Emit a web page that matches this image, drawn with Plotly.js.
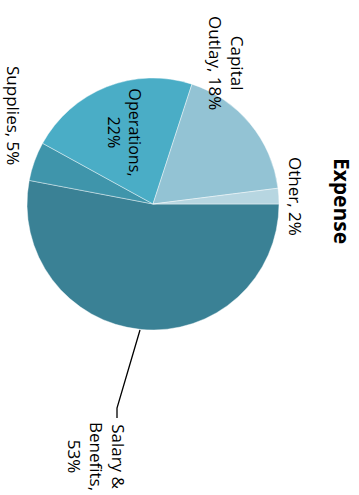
<!DOCTYPE html>
<html>
<head>
<meta charset="utf-8">
<script src="https://cdn.plot.ly/plotly-3.0.1.min.js"></script>
<style>
  html, body { margin: 0; padding: 0; background: #fff; overflow: hidden; }
  #wrap { position: absolute; left: 0; top: 0; width: 495px; height: 359px;
          transform-origin: 0 0; transform: translate(359px, 0) rotate(90deg); }
</style>
</head>
<body>
<div id="wrap"><div id="chart"></div></div>
<script>
// ---- data ----
const categories = ['Salary & Benefits', 'Supplies', 'Operations', 'Capital Outlay', 'Other'];
const values = [53, 5, 22, 18, 2];
const labelLines = ['Salary &<br>Benefits,<br>', 'Supplies, ', 'Operations,<br>', 'Capital<br>Outlay, ', 'Other, '];
const colors = ['#3a8195', '#3f95ab', '#4aadc6', '#93c3d4', '#b7d6e1'];
const chartTitle = 'Expense';

const total = values.reduce((a, b) => a + b, 0);
const texts = values.map((v, i) => labelLines[i] + Math.round(v / total * 100) + '%');

const W = 495, H = 359;
const font = { family: '"Open Sans", "Noto Sans", sans-serif', size: 17, color: '#000' };

// pie slices; only Operations text drawn inside by the pie itself
const trace = {
  type: 'pie',
  labels: categories,
  values: values,
  text: texts,
  textinfo: 'text',
  textposition: categories.map(c => c === 'Operations' ? 'inside' : 'none'),
  insidetextorientation: 'horizontal',
  insidetextfont: font,
  sort: false,
  direction: 'clockwise',
  rotation: 0,
  marker: { colors: colors, line: { color: 'rgba(255,255,255,0.6)', width: 0.7 } },
  domain: { x: [78 / W, 330 / W], y: [1 - 332 / H, 1 - 80 / H] },
  hoverinfo: 'none'
};

// outside label placements (pixel positions of unrotated chart)
const outsidePos = {
  'Capital Outlay': [63, 133],
  'Other': [196, 63],
  'Supplies': [115, 345],
  'Salary & Benefits': [456, 262]
};
const annotations = Object.keys(outsidePos).map(k => {
  const i = categories.indexOf(k);
  return {
    xref: 'paper', yref: 'paper',
    x: outsidePos[k][0] / W, y: 1 - outsidePos[k][1] / H,
    xanchor: 'center', yanchor: 'middle', align: 'center',
    text: texts[i], showarrow: false, font: font
  };
});

// leader line for Salary & Benefits
const pts = [[330, 219], [408, 242], [418, 242]];
const path = pts.map((p, j) => (j ? 'L' : 'M') + (p[0] / W) + ',' + (1 - p[1] / H)).join(' ');

const layout = {
  width: W, height: H,
  margin: { l: 0, r: 0, t: 0, b: 0 },
  paper_bgcolor: '#fff',
  showlegend: false,
  font: font,
  title: { text: '<b>' + chartTitle + '</b>', x: 201 / W, y: 1 - 18 / H,
           xanchor: 'center', yanchor: 'middle',
           font: { family: '"Open Sans", "Noto Sans", sans-serif', size: 21, color: '#000' } },
  annotations: annotations,
  shapes: [{ type: 'path', xref: 'paper', yref: 'paper', path: path,
             line: { color: '#000', width: 1.3 } }]
};

Plotly.newPlot('chart', [trace], layout, { displayModeBar: false, staticPlot: true });
</script>
</body>
</html>
